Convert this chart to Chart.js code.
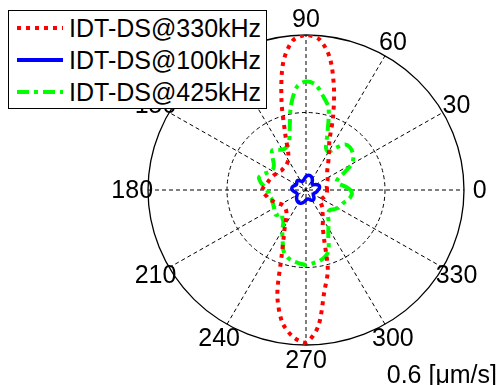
<!DOCTYPE html>
<html>
<head>
<meta charset="utf-8">
<script src="https://cdn.jsdelivr.net/npm/chart.js@4.4.1/dist/chart.umd.min.js"></script>
<style>
  html, body { margin: 0; padding: 0; background: #fff; }
  #wrap { position: relative; width: 500px; height: 385px; }
  #polar { position: absolute; left: 0; top: 0; }
  .legend {
    position: absolute; left: 8px; top: 10px; width: 257px; height: 96px;
    border: 1.5px solid #000; background: #fff; padding-top: 1px; box-sizing: content-box;
    font-family: "Liberation Sans", Arial, sans-serif; font-size: 25px; color: #000;
  }
  .row { height: 32px; display: flex; align-items: center; white-space: nowrap; }
  .row svg { margin-left: 8px; margin-right: 6px; flex: none; }
</style>
</head>
<body>
<div id="wrap">
  <canvas id="polar" width="500" height="385"></canvas>
  <div class="legend" id="legend"></div>
</div>
<script>
// angles in degrees, radii in um/s
const angles = [0, 5, 10, 15, 20, 25, 30, 35, 40, 45, 50, 55, 60, 65, 70, 75, 80, 85,
  90, 95, 100, 105, 110, 115, 120, 125, 130, 135, 140, 145, 150, 155, 160, 165, 170, 175,
  180, 185, 190, 195, 200, 205, 210, 215, 220, 225, 230, 235, 240, 245, 250, 255, 260, 265,
  270, 275, 280, 285, 290, 295, 300, 305, 310, 315, 320, 325, 330, 335, 340, 345, 350, 355];

const r330 = [0.08, 0.08, 0.08, 0.083, 0.085, 0.09, 0.095, 0.10, 0.105, 0.115, 0.13, 0.15, 0.175, 0.21, 0.30, 0.41, 0.52, 0.585,
  0.60, 0.58, 0.50, 0.36, 0.23, 0.16, 0.135, 0.125, 0.12, 0.12, 0.12, 0.125, 0.128, 0.135, 0.14, 0.145, 0.15, 0.16,
  0.166, 0.16, 0.15, 0.145, 0.13, 0.12, 0.11, 0.105, 0.105, 0.108, 0.115, 0.13, 0.16, 0.20, 0.27, 0.42, 0.52, 0.57,
  0.59, 0.53, 0.40, 0.32, 0.20, 0.15, 0.13, 0.11, 0.10, 0.085, 0.07, 0.066, 0.068, 0.072, 0.075, 0.078, 0.08, 0.08];

const r100 = [0.045, 0.05, 0.052, 0.053, 0.052, 0.048, 0.042, 0.036, 0.033, 0.033, 0.036, 0.042, 0.048, 0.053, 0.056, 0.058, 0.058, 0.056,
  0.052, 0.047, 0.042, 0.038, 0.036, 0.037, 0.04, 0.045, 0.048, 0.048, 0.046, 0.043, 0.042, 0.044, 0.048, 0.052, 0.054, 0.054,
  0.052, 0.048, 0.043, 0.039, 0.037, 0.037, 0.039, 0.043, 0.047, 0.05, 0.053, 0.055, 0.056, 0.056, 0.055, 0.052, 0.048, 0.043,
  0.039, 0.036, 0.035, 0.036, 0.039, 0.043, 0.046, 0.047, 0.046, 0.043, 0.038, 0.034, 0.032, 0.033, 0.035, 0.038, 0.041, 0.043];

const r425 = [0.17, 0.15, 0.13, 0.12, 0.13, 0.16, 0.20, 0.22, 0.23, 0.235, 0.23, 0.20, 0.17, 0.18, 0.24, 0.33, 0.37, 0.41,
  0.42, 0.40, 0.33, 0.24, 0.19, 0.18, 0.18, 0.19, 0.20, 0.18, 0.16, 0.15, 0.15, 0.16, 0.175, 0.185, 0.175, 0.16,
  0.15, 0.14, 0.14, 0.135, 0.135, 0.137, 0.14, 0.145, 0.15, 0.13, 0.14, 0.15, 0.18, 0.21, 0.25, 0.27, 0.28, 0.285,
  0.29, 0.285, 0.28, 0.27, 0.25, 0.20, 0.17, 0.15, 0.13, 0.12, 0.12, 0.13, 0.14, 0.145, 0.15, 0.16, 0.17, 0.175];

const seriesNames = ["IDT-DS@330kHz", "IDT-DS@100kHz", "IDT-DS@425kHz"];
const seriesColors = ["#ff0000", "#0000ff", "#00ff00"];
const seriesDash = [[4, 5], [], [12, 5, 4, 5]];

const rMax = 0.6;
const rRings = [0.3, 0.6];
const spokeAngles = [0, 30, 60, 90, 120, 150];
const angleLabels = [0, 30, 60, 90, 120, 150, 180, 210, 240, 270, 300, 330];
const unitLabel = "0.6 [\u03bcm/s]";
const FONT = '25px "Liberation Sans", Arial, sans-serif';

function toXY(r) {
  const pts = angles.map((a, i) => {
    const t = a * Math.PI / 180;
    return { x: r[i] * Math.cos(t), y: r[i] * Math.sin(t) };
  });
  pts.push(pts[0]);
  return pts;
}

const polarGrid = {
  id: "polarGrid",
  beforeDatasetsDraw(chart) {
    const { ctx, scales: { x, y } } = chart;
    const cx = x.getPixelForValue(0), cy = y.getPixelForValue(0);
    const kx = x.getPixelForValue(1) - cx, ky = cy - y.getPixelForValue(1);
    ctx.save();
    ctx.strokeStyle = "#000";

    ctx.lineWidth = 1;
    ctx.setLineDash([4, 3]);
    spokeAngles.forEach((a) => {
      const t = a * Math.PI / 180;
      ctx.beginPath();
      ctx.moveTo(cx - rMax * Math.cos(t) * kx, cy + rMax * Math.sin(t) * ky);
      ctx.lineTo(cx + rMax * Math.cos(t) * kx, cy - rMax * Math.sin(t) * ky);
      ctx.stroke();
    });
    rRings.slice(0, -1).forEach((r) => {
      ctx.beginPath();
      ctx.ellipse(cx, cy, r * kx, r * ky, 0, 0, Math.PI * 2);
      ctx.stroke();
    });

    ctx.setLineDash([]);
    ctx.lineWidth = 1.3;
    ctx.beginPath();
    ctx.ellipse(cx, cy, rMax * kx, rMax * ky, 0, 0, Math.PI * 2);
    ctx.stroke();

    ctx.fillStyle = "#000";
    ctx.font = FONT;
    ctx.textAlign = "center";
    ctx.textBaseline = "middle";
    angleLabels.forEach((a) => {
      const t = a * Math.PI / 180;
      const lr = rMax * 1.1;
      ctx.fillText(String(a), cx + lr * Math.cos(t) * kx, cy - lr * Math.sin(t) * ky + 1);
    });
    ctx.textAlign = "right";
    ctx.textBaseline = "alphabetic";
    ctx.fillText(unitLabel, chart.width - 3, chart.height - 2);
    ctx.restore();
  },
};

new Chart(document.getElementById("polar").getContext("2d"), {
  type: "scatter",
  data: {
    datasets: [r330, r100, r425].map((r, i) => ({
      label: seriesNames[i],
      data: toXY(r),
      showLine: true,
      borderColor: seriesColors[i],
      borderWidth: i === 1 ? 3.5 : 4,
      borderDash: seriesDash[i],
      borderCapStyle: "butt",
      pointRadius: 0,
      tension: 0.3,
      fill: false,
    })),
  },
  options: {
    responsive: false,
    animation: false,
    layout: { padding: { left: 148, right: 36, top: 35, bottom: 40 } },
    plugins: { legend: { display: false }, tooltip: { enabled: false } },
    scales: {
      x: { type: "linear", min: -rMax, max: rMax, display: false },
      y: { type: "linear", min: -rMax, max: rMax, display: false },
    },
  },
  plugins: [polarGrid],
});

// legend box drawn over the plot like the original
const legend = document.getElementById("legend");
seriesNames.forEach((name, i) => {
  const row = document.createElement("div");
  row.className = "row";
  const dash = seriesDash[i].length ? ` stroke-dasharray="${seriesDash[i].join(" ")}"` : "";
  row.innerHTML = `<svg width="46" height="8"><line x1="0" y1="4" x2="46" y2="4" stroke="${seriesColors[i]}" stroke-width="4"${dash}/></svg><span>${name}</span>`;
  legend.appendChild(row);
});
</script>
</body>
</html>
